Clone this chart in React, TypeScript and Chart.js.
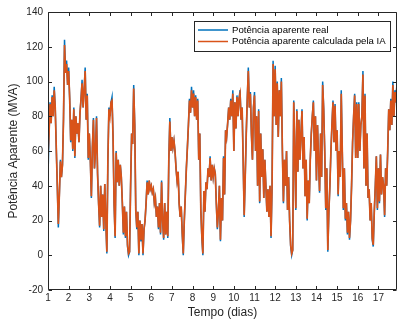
import React, { useEffect, useRef } from "react";
import { Chart, registerables } from "chart.js";
Chart.register(...registerables);

// sampling grid: one value every 0.05 day starting at day 1
const startDay = 1;
const stepDay = 0.05;

const realPower = [
  45, 70, 88, 76, 92, 80, 97, 85, 62, 40, 16, 35, 55, 45, 52, 78, 124, 105, 112, 98,
  108, 90, 65, 78, 60, 85, 56, 80, 70, 76, 65, 82, 90, 101, 85, 95, 108, 78, 93, 55,
  70, 55, 33, 62, 79, 50, 60, 80, 47, 30, 16, 40, 22, 35, 14, 41, 20, 1, 55, 85,
  80, 88, 91, 68, 30, 10, 60, 42, 55, 40, 52, 45, 30, 12, 28, 10, 25, 5, 0, 2,
  40, 70, 64, 98, 75, 26, 15, 25, 0, 20, 8, 18, 0, 15, 20, 30, 43, 35, 43, 38,
  40, 36, 38, 30, 33, 22, 28, 15, 30, 12, 43, 20, 9, 30, 12, 25, 10, 55, 79, 60,
  68, 62, 66, 60, 50, 43, 48, 30, 22, 28, 12, 0, 20, 35, 50, 62, 75, 90, 82, 97,
  85, 95, 80, 92, 78, 90, 55, 70, 26, 10, 0, 37, 25, 42, 38, 50, 45, 57, 43, 52,
  45, 50, 47, 30, 15, 25, 40, 8, 33, 20, 57, 35, 72, 68, 76, 85, 78, 90, 80, 95,
  60, 88, 73, 92, 80, 90, 95, 78, 85, 55, 22, 45, 70, 90, 108, 85, 94, 70, 55, 85,
  94, 60, 80, 40, 84, 30, 70, 45, 61, 33, 55, 40, 25, 38, 22, 40, 10, 40, 112, 80,
  109, 75, 100, 68, 95, 80, 102, 60, 30, 55, 40, 60, 26, 45, 20, 5, 0, 3, 89, 60,
  26, 84, 48, 78, 55, 70, 84, 50, 68, 34, 55, 20, 43, 30, 55, 70, 80, 89, 60, 80,
  43, 75, 55, 36, 70, 45, 100, 84, 60, 26, 50, 2, 25, 40, 60, 75, 89, 65, 87, 60,
  72, 34, 60, 45, 95, 60, 26, 50, 20, 30, 12, 25, 9, 20, 40, 65, 80, 93, 56, 88,
  56, 88, 60, 75, 80, 106, 50, 93, 40, 70, 33, 38, 20, 30, 9, 5, 25, 40, 57, 26,
  50, 30, 58, 35, 45, 40, 22, 50, 40, 60, 84, 72, 90, 75, 100, 80, 95, 88, 100,
];

const iaPower = [
  58, 70, 87, 76, 91, 80, 95, 85, 62, 40, 18, 35, 54, 45, 52, 78, 121, 105, 110, 98,
  106, 90, 66, 78, 61, 84, 57, 80, 70, 76, 65, 82, 90, 99, 85, 95, 106, 78, 92, 56,
  70, 55, 34, 62, 78, 50, 60, 79, 47, 30, 17, 40, 22, 35, 15, 41, 20, 2, 55, 84,
  80, 88, 89, 68, 30, 11, 59, 42, 55, 40, 52, 45, 30, 13, 28, 11, 25, 6, 1, 2,
  40, 70, 64, 96, 75, 26, 16, 25, 1, 20, 9, 18, 1, 15, 20, 30, 42, 35, 43, 38,
  40, 36, 38, 30, 33, 22, 28, 16, 30, 13, 42, 20, 10, 30, 12, 25, 11, 55, 77, 60,
  68, 62, 66, 60, 50, 43, 48, 30, 22, 28, 13, 1, 20, 35, 50, 62, 75, 89, 82, 95,
  85, 93, 80, 91, 78, 89, 55, 70, 26, 11, 1, 37, 25, 42, 38, 50, 45, 56, 43, 52,
  45, 50, 47, 30, 16, 25, 40, 9, 33, 20, 56, 35, 72, 68, 76, 85, 78, 89, 80, 93,
  60, 88, 73, 91, 80, 90, 93, 78, 85, 55, 23, 45, 70, 90, 106, 85, 93, 70, 55, 85,
  92, 60, 80, 40, 83, 31, 70, 45, 61, 33, 55, 40, 25, 38, 22, 40, 11, 40, 110, 80,
  107, 75, 99, 68, 95, 80, 100, 60, 31, 55, 40, 60, 26, 45, 20, 6, 1, 3, 88, 60,
  27, 83, 48, 78, 55, 70, 83, 50, 68, 34, 55, 21, 43, 30, 55, 70, 80, 88, 60, 80,
  43, 75, 55, 37, 70, 45, 98, 84, 60, 27, 50, 3, 25, 40, 60, 75, 88, 65, 86, 60,
  72, 35, 60, 45, 93, 60, 27, 50, 21, 30, 13, 25, 10, 20, 40, 65, 80, 92, 56, 87,
  56, 87, 60, 75, 80, 104, 50, 92, 40, 70, 33, 38, 20, 30, 10, 6, 25, 40, 57, 27,
  50, 31, 58, 35, 45, 40, 23, 50, 40, 60, 84, 72, 89, 75, 98, 80, 94, 88, 98,
];

const seriesLabels = ["Potência aparente real", "Potência aparente calculada pela IA"];
const seriesColors = ["#0072BD", "#D95319"];
const xTickDays = [1, 2, 3, 4, 5, 6, 7, 8, 9, 10, 11, 12, 13, 14, 15, 16, 17];
const xRange = [1, 17.9];
const yTickValues = [-20, 0, 20, 40, 60, 80, 100, 120, 140];
const xTitle = "Tempo (dias)";
const yTitle = "Potência Aparente (MVA)";

const FONT = '"Liberation Sans", Arial, Helvetica, sans-serif';
const AXIS = "#262626";

function toPoints(vals: number[]) {
  return vals.map((v, i) => ({ x: startDay + i * stepDay, y: v }));
}

const framePlugin = {
  id: "matlabFrame",
  afterDraw(chart: any) {
    const ctx = chart.ctx;
    const { left, right, top, bottom } = chart.chartArea;
    const xs = chart.scales.x;
    const ys = chart.scales.y;
    ctx.save();
    ctx.strokeStyle = AXIS;
    ctx.lineWidth = 1;
    const L = Math.round(left) + 0.5;
    const R = Math.round(right) - 0.5;
    const T = Math.round(top) + 0.5;
    const B = Math.round(bottom) - 0.5;
    ctx.beginPath();
    ctx.moveTo(L, T); ctx.lineTo(R, T); ctx.lineTo(R, B); ctx.lineTo(L, B); ctx.closePath();
    const tl = 3.5;
    xTickDays.forEach((d) => {
      const px = Math.round(xs.getPixelForValue(d)) + 0.5;
      ctx.moveTo(px, B); ctx.lineTo(px, B - tl);
      ctx.moveTo(px, T); ctx.lineTo(px, T + tl);
    });
    yTickValues.forEach((v) => {
      const py = Math.round(ys.getPixelForValue(v)) + 0.5;
      ctx.moveTo(L, py); ctx.lineTo(L + tl, py);
      ctx.moveTo(R, py); ctx.lineTo(R - tl, py);
    });
    ctx.stroke();

    // axis titles
    ctx.fillStyle = AXIS;
    ctx.font = `12px ${FONT}`;
    ctx.textAlign = "center";
    ctx.textBaseline = "middle";
    ctx.fillText(xTitle, (left + right) / 2, 313);
    ctx.save();
    ctx.translate(14, (top + bottom) / 2);
    ctx.rotate(-Math.PI / 2);
    ctx.fillText(yTitle, 0, 0);
    ctx.restore();

    // legend
    const bx = 194.5, by = 21.5, bw = 196, bh = 30;
    ctx.fillStyle = "#ffffff";
    ctx.fillRect(bx, by, bw, bh);
    ctx.strokeStyle = AXIS;
    ctx.lineWidth = 1;
    ctx.strokeRect(bx, by, bw, bh);
    ctx.font = `9.6px ${FONT}`;
    ctx.textAlign = "left";
    ctx.textBaseline = "middle";
    seriesLabels.forEach((lab, i) => {
      const yy = 30 + i * 11.5;
      ctx.strokeStyle = seriesColors[i];
      ctx.lineWidth = 1.5;
      ctx.beginPath();
      ctx.moveTo(198, yy); ctx.lineTo(228, yy);
      ctx.stroke();
      ctx.fillStyle = "#000000";
      ctx.fillText(lab, 232, yy);
    });
    ctx.restore();
  },
};

export default function App() {
  const ref = useRef<HTMLCanvasElement | null>(null);
  useEffect(() => {
    if (!ref.current) return;
    const chart = new Chart(ref.current, {
      type: "line",
      data: {
        datasets: [
          {
            label: seriesLabels[1],
            data: toPoints(iaPower),
            borderColor: seriesColors[1],
            backgroundColor: seriesColors[1],
            borderWidth: 1.7,
            pointRadius: 0,
            tension: 0,
          },
          {
            label: seriesLabels[0],
            data: toPoints(realPower),
            borderColor: seriesColors[0],
            backgroundColor: seriesColors[0],
            borderWidth: 1.5,
            pointRadius: 0,
            tension: 0,
          },
        ],
      },
      options: {
        responsive: false,
        animation: false,
        devicePixelRatio: 1,
        layout: { padding: { top: 12, right: 1, left: 0, bottom: 0 } },
        plugins: { legend: { display: false }, tooltip: { enabled: false } },
        scales: {
          x: {
            type: "linear",
            min: xRange[0],
            max: xRange[1],
            afterBuildTicks: (s: any) => {
              s.ticks = xTickDays.map((v) => ({ value: v }));
            },
            afterFit: (s: any) => {
              s.height = 35;
            },
            ticks: {
              autoSkip: false,
              maxRotation: 0,
              padding: 2,
              color: AXIS,
              font: { size: 10, family: FONT },
            },
            grid: { display: false, drawTicks: false },
            border: { display: false },
          },
          y: {
            type: "linear",
            min: -20,
            max: 140,
            afterBuildTicks: (s: any) => {
              s.ticks = yTickValues.map((v) => ({ value: v }));
            },
            afterFit: (s: any) => {
              s.width = 48;
            },
            ticks: {
              padding: 5,
              color: AXIS,
              font: { size: 10, family: FONT },
            },
            grid: { display: false, drawTicks: false },
            border: { display: false },
          },
        },
      },
      plugins: [framePlugin],
    });
    return () => chart.destroy();
  }, []);
  return (
    <div style={{ position: "absolute", left: 0, top: 0, width: 398, height: 325, background: "#fff" }}>
      <canvas ref={ref} width={398} height={325} />
    </div>
  );
}
